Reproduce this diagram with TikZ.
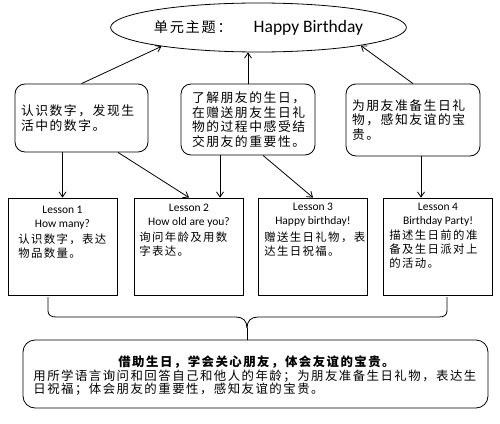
\documentclass[tikz,border=0pt]{standalone}
\usepackage{fontspec}
\newfontfamily\engf{Carlito}
\newfontfamily\cjk[LetterSpace=12]{Noto Sans CJK SC}
\usetikzlibrary{arrows.meta,shapes.geometric}
\begin{document}
\begin{tikzpicture}[x=1pt,y=-1pt,line width=0.8pt,
  arr/.style={-{Straight Barb[length=5pt,width=7pt]}},
  rbox/.style={draw,rounded corners=10pt,inner sep=0pt,align=left,font=\cjk\fontsize{12.8}{14.5}\selectfont},
  lbox/.style={draw,inner sep=0pt,minimum width=109,minimum height=97},
  eng/.style={inner sep=0pt,align=center,font=\engf\fontsize{11.5}{14}\selectfont},
  chn/.style={inner sep=0pt,anchor=west,align=left,font=\cjk\fontsize{11.4}{14}\selectfont}]
\useasboundingbox[fill=white] (0,0) rectangle (500,423);
% title ellipse
\node[draw,ellipse,minimum width=276,minimum height=49,inner sep=0pt] (ell) at (258.5,27.5)
  {{\cjk\fontsize{14.2}{16}\selectfont 单元主题：}\hspace{22pt}{\engf\fontsize{17.5}{18}\selectfont Happy Birthday}};
% top boxes
\node[rbox,minimum width=133,minimum height=68,text width=121] (a) at (81.5,118)
  {认识数字，发现生\\活中的数字。};
\node[rbox,minimum width=134,minimum height=71,text width=112] (b) at (248,119.5)
  {了解朋友的生日，\\在赠送朋友生日礼\\物的过程中感受结\\交朋友的重要性。};
\node[rbox,minimum width=134,minimum height=72,text width=122] (c) at (413,120)
  {为朋友准备生日礼\\物，感知友谊的宝\\贵。};
% lesson boxes
\node[lbox] (l1) at (62.5,246.5) {};
\node[lbox] (l2) at (189,246.5) {};
\node[lbox] (l3) at (313,246.5) {};
\node[lbox] (l4) at (438,246.5) {};
\node[eng] (e1) at (62.5,217.5) {Lesson 1\\How many?};
\node[eng] (e2) at (189,216) {Lesson 2\\How old are you?};
\node[eng] (e3) at (313,215) {Lesson 3\\Happy birthday!};
\node[eng] (e4) at (438,214.5) {Lesson 4\\Birthday Party!};
\node[chn] (z1) at (18,246) {认识数字，表达\\物品数量。};
\node[chn] (z2) at (139,244) {询问年龄及用数\\字表达。};
\node[chn] (z3) at (264,244) {赠送生日礼物，表\\达生日祝福。};
\node[chn] (z4) at (389,249) {描述生日前的准\\备及生日派对上\\的活动。};
% bottom box
\node[draw,rounded corners=12pt,inner sep=0pt,minimum width=465,minimum height=68] (bot) at (255.5,374) {};
\node[inner sep=0pt,font=\cjk\bfseries\fontsize{12.4}{14}\selectfont] (bt) at (256.5,362)
  {借助生日，学会关心朋友，体会友谊的宝贵。};
\node[inner sep=0pt,anchor=west,align=left,font=\cjk\fontsize{12.4}{13.5}\selectfont] (bx) at (33,382.5)
  {用所学语言询问和回答自己和他人的年龄；为朋友准备生日礼物，表达生\\日祝福；体会朋友的重要性，感知友谊的宝贵。};
% arrows to title
\draw[arr] (a.north) -- (ell.191);
\draw[arr] (b.north) -- (b.north |- ell.south);
\draw[arr] (c.north) -- (ell.350);
% arrows to lessons
\coordinate (a1) at (l1.north |- a.south);
\draw[arr] (a1) -- (l1.north);
\coordinate (a2) at ([xshift=36.5pt]a.south);
\draw[arr] (a2) -- (l2.north);
\coordinate (b1) at ([xshift=-28pt]b.south);
\draw[arr] (b1) -- (b1 |- l2.north);
\coordinate (b2) at ([xshift=15pt]b.south);
\draw[arr] (b2) -- (l3.north);
\coordinate (c1) at ([xshift=8pt]c.south);
\draw[arr] (c1) -- (c1 |- l4.north);
% brace
\coordinate (bl) at (48,297);
\coordinate (br) at (447,297);
\coordinate (bm) at (247,328);
\draw (bl) -- (48,311) .. controls (48,315) and (51,317) .. (56,317) -- (236,317)
  .. controls (243,317) and (247,321) .. (bm);
\draw (br) -- (447,311) .. controls (447,315) and (444,317) .. (439,317) -- (258,317)
  .. controls (251,317) and (247,321) .. (bm);
\draw (bm) -- (bm |- bot.north);
\end{tikzpicture}
\end{document}
